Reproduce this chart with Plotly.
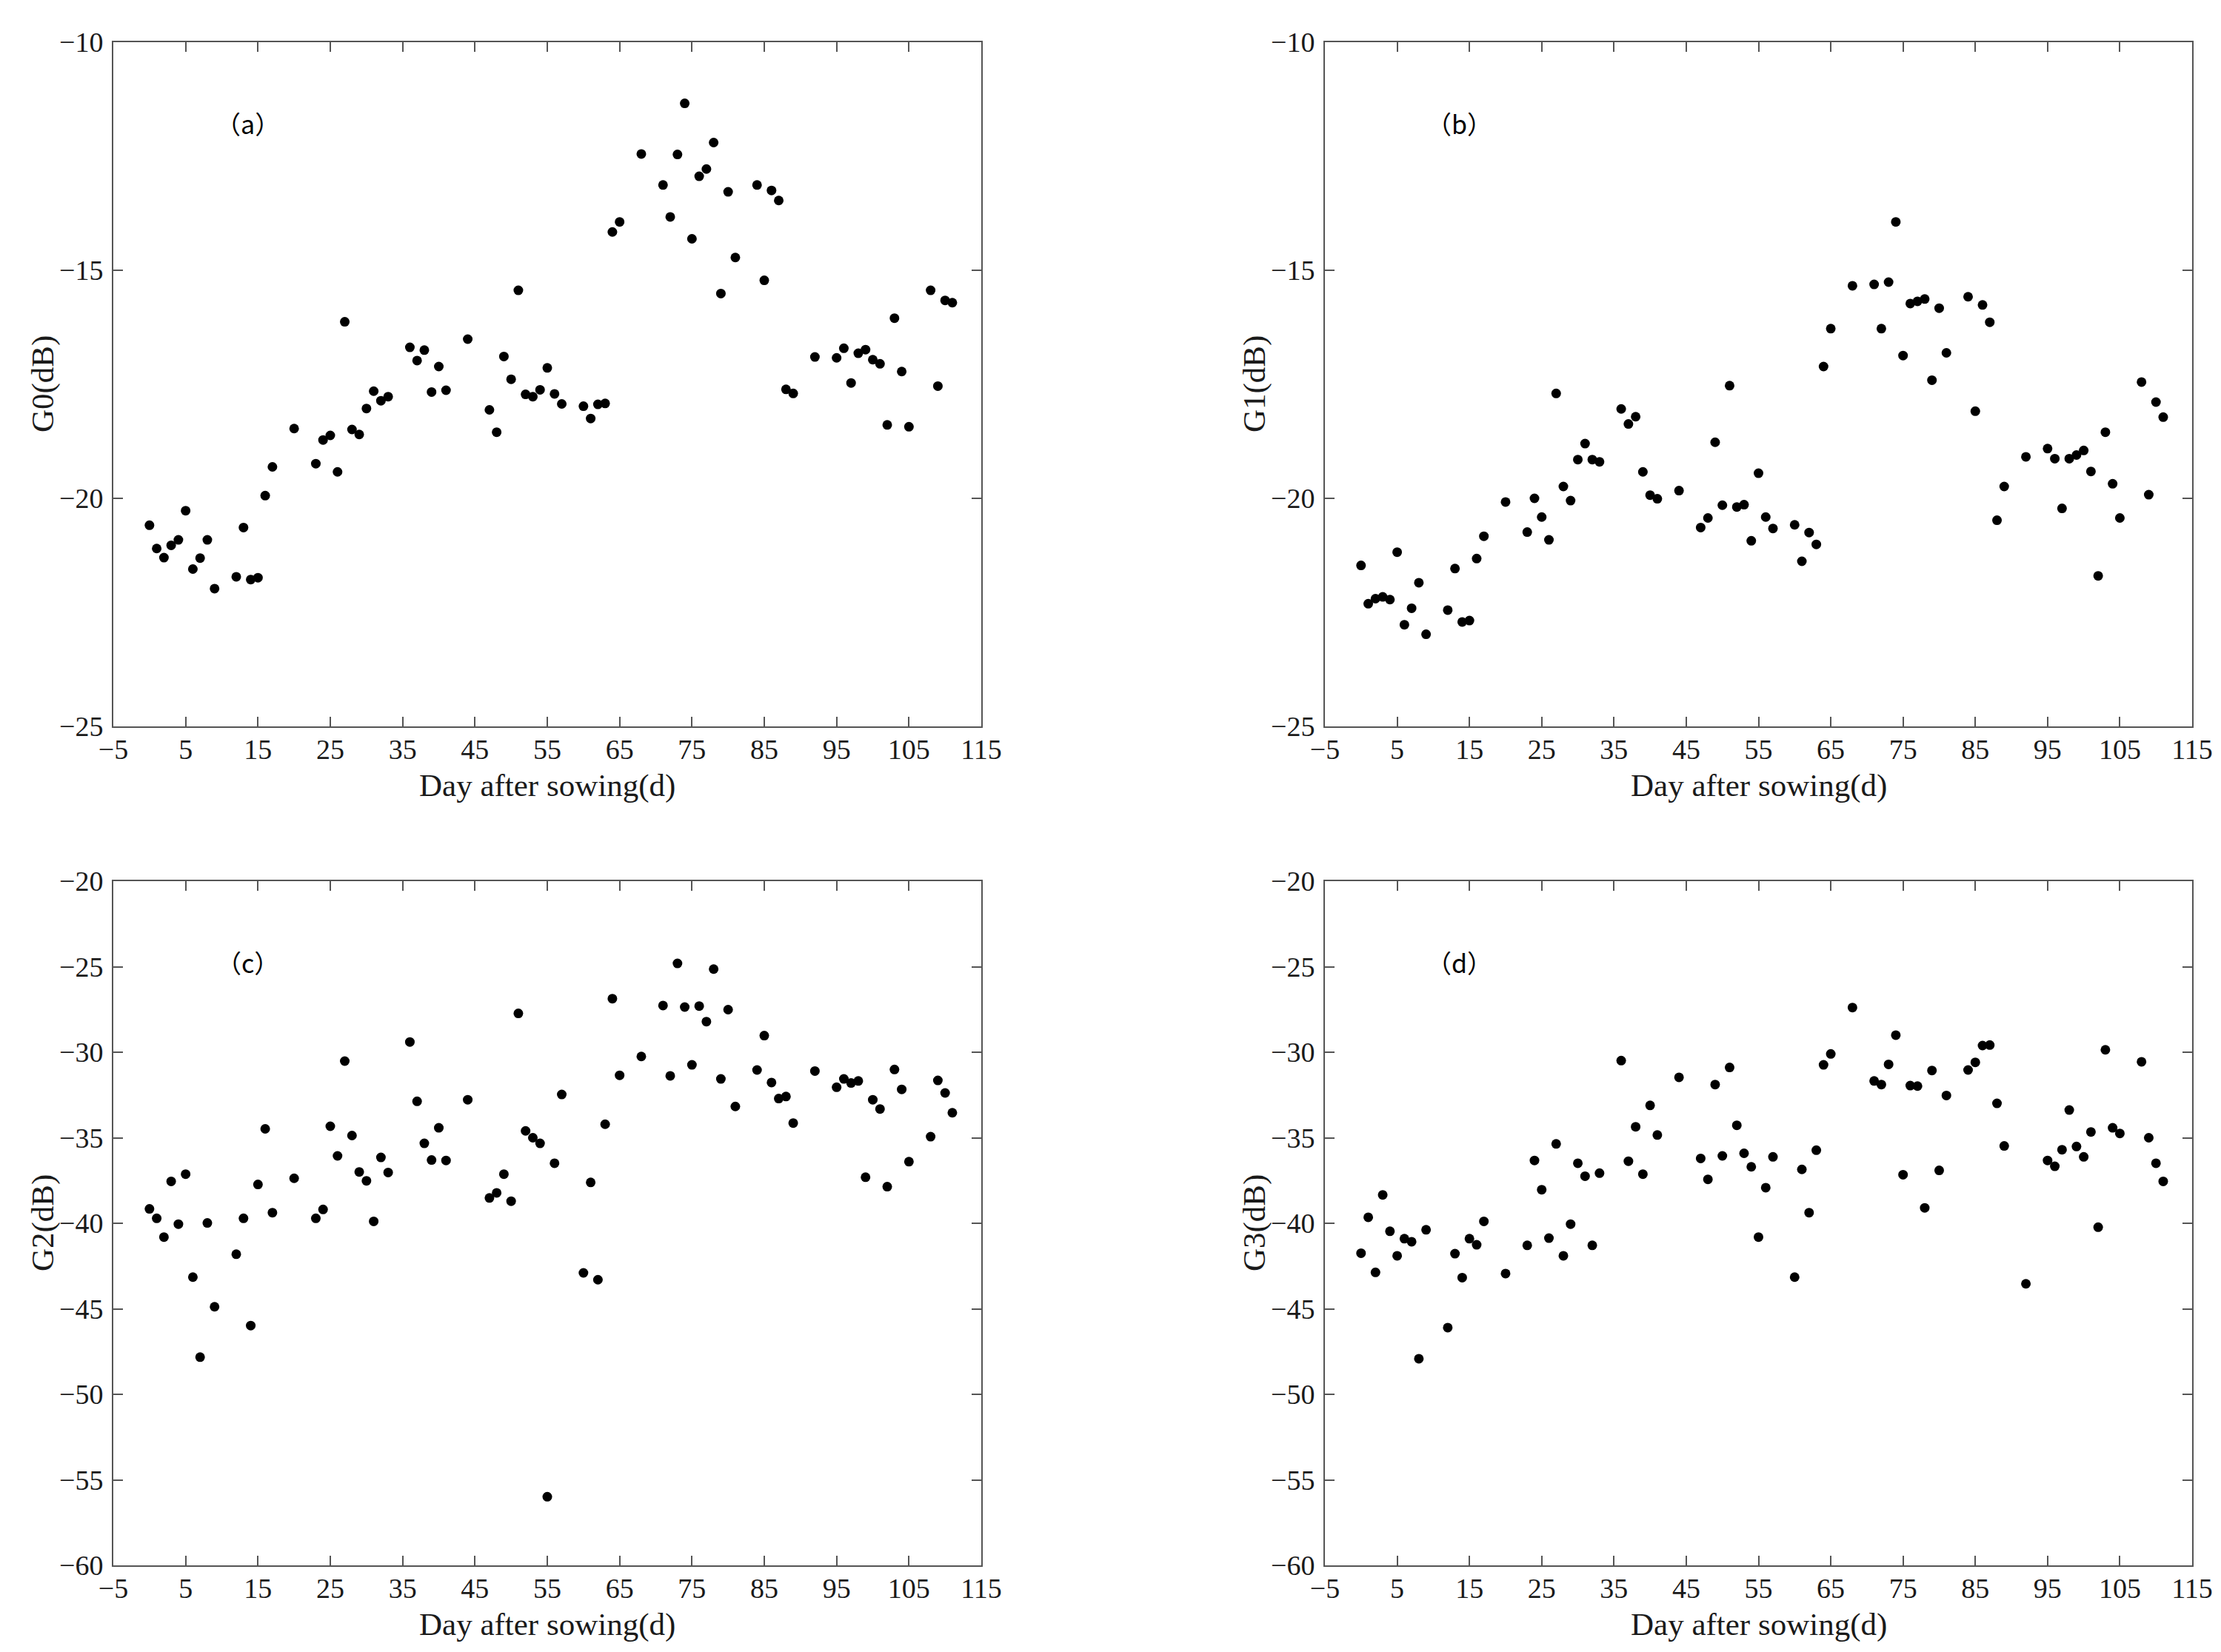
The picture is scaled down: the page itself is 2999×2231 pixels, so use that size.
import plotly.graph_objects as go

# sampling days (same for all four panels)
days = [0, 1, 2, 3, 4, 5, 6, 7, 8, 9, 12, 13, 14, 15, 16, 17, 20, 23, 24, 25,
        26, 27, 28, 29, 30, 31, 32, 33, 36, 37, 38, 39, 40, 41, 44, 47, 48, 49,
        50, 51, 52, 53, 54, 55, 56, 57, 60, 61, 62, 63, 64, 65, 68, 71, 72, 73,
        74, 75, 76, 77, 78, 79, 80, 81, 84, 85, 86, 87, 88, 89, 92, 95, 96, 97,
        98, 99, 100, 101, 102, 103, 104, 105, 108, 109, 110, 111]

g0 = [-20.59, -21.10, -21.30, -21.03, -20.91, -20.27, -21.55, -21.31, -20.91, -21.98,
      -21.72, -20.64, -21.78, -21.74, -19.94, -19.31, -18.47, -19.24, -18.72, -18.62,
      -19.42, -16.13, -18.49, -18.60, -18.03, -17.65, -17.86, -17.77, -16.69, -16.98,
      -16.75, -17.67, -17.11, -17.63, -16.51, -18.06, -18.55, -16.89, -17.39, -15.44,
      -17.72, -17.77, -17.62, -17.14, -17.71, -17.93, -17.98, -18.25, -17.94, -17.92,
      -14.16, -13.94, -12.45, -13.13, -13.83, -12.46, -11.34, -14.31, -12.94, -12.78,
      -12.20, -15.51, -13.28, -14.72, -13.13, -15.22, -13.25, -13.47, -17.61, -17.70,
      -16.90, -16.92, -16.71, -17.47, -16.82, -16.74, -16.96, -17.05, -18.39, -16.05,
      -17.22, -18.43, -15.44, -17.54, -15.66, -15.71]

g1 = [-21.47, -22.31, -22.20, -22.16, -22.22, -21.18, -22.77, -22.41, -21.85, -22.98,
      -22.45, -21.54, -22.71, -22.68, -21.32, -20.83, -20.08, -20.74, -20.00, -20.41,
      -20.91, -17.70, -19.74, -20.05, -19.15, -18.80, -19.15, -19.20, -18.04, -18.37,
      -18.21, -19.42, -19.93, -20.01, -19.83, -20.64, -20.43, -18.77, -20.15, -17.53,
      -20.19, -20.14, -20.93, -19.45, -20.41, -20.66, -20.58, -21.38, -20.75, -21.01,
      -17.11, -16.28, -15.34, -15.31, -16.28, -15.26, -13.94, -16.87, -15.73, -15.68,
      -15.63, -17.41, -15.83, -16.81, -15.58, -18.09, -15.76, -16.14, -20.48, -19.74,
      -19.09, -18.91, -19.13, -20.22, -19.13, -19.05, -18.95, -19.41, -21.70, -18.55,
      -19.68, -20.43, -17.45, -19.92, -17.89, -18.22]

g2 = [-39.16, -39.71, -40.81, -37.55, -40.05, -37.13, -43.15, -47.83, -39.98, -44.88,
      -41.81, -39.71, -45.98, -37.73, -34.48, -39.38, -37.37, -39.71, -39.19, -34.33,
      -36.06, -30.52, -34.87, -37.00, -37.52, -39.89, -36.15, -37.03, -29.40, -32.87,
      -35.33, -36.30, -34.42, -36.33, -32.78, -38.52, -38.22, -37.13, -38.71, -27.73,
      -34.60, -35.00, -35.33, -55.99, -36.49, -32.47, -42.90, -37.61, -43.30, -34.21,
      -26.87, -31.35, -30.25, -27.27, -31.38, -24.81, -27.36, -30.74, -27.30, -28.21,
      -25.14, -31.56, -27.51, -33.17, -31.04, -29.03, -31.77, -32.71, -32.59, -34.14,
      -31.10, -32.05, -31.56, -31.80, -31.68, -37.31, -32.78, -33.32, -37.86, -31.01,
      -32.17, -36.40, -34.94, -31.65, -32.38, -33.54]

g3 = [-41.75, -39.65, -42.87, -38.34, -40.47, -41.90, -40.90, -41.08, -47.92, -40.38,
      -46.10, -41.78, -43.18, -40.90, -41.26, -39.89, -42.94, -41.29, -36.33, -38.04,
      -40.87, -35.36, -41.90, -40.05, -36.49, -37.25, -41.29, -37.07, -30.49, -36.37,
      -34.36, -37.13, -33.11, -34.84, -31.47, -36.21, -37.43, -31.89, -36.06, -30.89,
      -34.27, -35.91, -36.70, -40.81, -37.92, -36.12, -43.15, -36.85, -39.38, -35.73,
      -30.74, -30.10, -27.39, -31.68, -31.89, -30.71, -29.00, -37.16, -31.95, -31.98,
      -39.10, -31.07, -36.91, -32.53, -31.04, -30.59, -29.61, -29.58, -32.99, -35.48,
      -43.54, -36.33, -36.67, -35.70, -33.38, -35.51, -36.12, -34.66, -40.23, -29.86,
      -34.42, -34.75, -30.56, -35.00, -36.49, -37.55]

series = [g0, g1, g2, g3]
y_titles = ["G0(dB)", "G1(dB)", "G2(dB)", "G3(dB)"]
panel_tags = ["（a）", "（b）", "（c）", "（d）"]
y_ranges = [[-25, -10], [-25, -10], [-60, -20], [-60, -20]]
x_title = "Day after sowing(d)"

W, H = 2999, 2231
# plot boxes in pixels: left, right, top, bottom
boxes = [(145, 1317, 49, 973), (1781, 2952, 49, 973),
         (145, 1317, 1182, 2106), (1781, 2952, 1182, 2106)]

serif = "Liberation Serif, Times New Roman, serif"
axis_col = "#555555"
text_col = "#1a1a1a"

fig = go.Figure()
for i, (vals, box) in enumerate(zip(series, boxes)):
    n = "" if i == 0 else str(i + 1)
    l, r, t, b = box
    fig.add_trace(go.Scatter(
        x=days, y=vals, mode="markers",
        marker=dict(color="black", size=13),
        xaxis="x" + n, yaxis="y" + n, showlegend=False))

    common = dict(showgrid=False, zeroline=False, showline=True, linecolor=axis_col,
                  linewidth=2, mirror="ticks", ticks="inside", ticklen=13,
                  tickwidth=2, tickcolor=axis_col, automargin=False,
                  tickfont=dict(family=serif, size=38, color=text_col))
    fig.layout["xaxis" + n] = dict(
        domain=[l / W, r / W], anchor="y" + n, range=[-5, 115],
        tick0=-5, dtick=10, ticklabelstandoff=-4, **common)
    fig.layout["yaxis" + n] = dict(
        domain=[1 - b / H, 1 - t / H], anchor="x" + n, range=y_ranges[i],
        dtick=5, ticklabelstandoff=4, **common)

    # panel tag
    fig.add_annotation(text=panel_tags[i], xref="x" + n + " domain", yref="y" + n + " domain",
                       x=0.155, y=0.881, xanchor="center", yanchor="middle", showarrow=False,
                       font=dict(family="Noto Sans CJK SC", size=34, color="black"))
    # axis titles
    fig.add_annotation(text=x_title, xref="paper", yref="paper",
                       x=(l + r) / 2 / W, y=1 - (b + 80) / H,
                       xanchor="center", yanchor="middle", showarrow=False,
                       font=dict(family=serif, size=43, color=text_col))
    fig.add_annotation(text=y_titles[i], xref="paper", yref="paper",
                       x=(l - 95) / W, y=1 - (t + b) / 2 / H, textangle=-90,
                       xanchor="center", yanchor="middle", showarrow=False,
                       font=dict(family=serif, size=43, color=text_col))

fig.update_layout(width=W, height=H, margin=dict(l=0, r=0, t=0, b=0, autoexpand=False),
                  paper_bgcolor="white", plot_bgcolor="white")

fig.write_html("out.html")
